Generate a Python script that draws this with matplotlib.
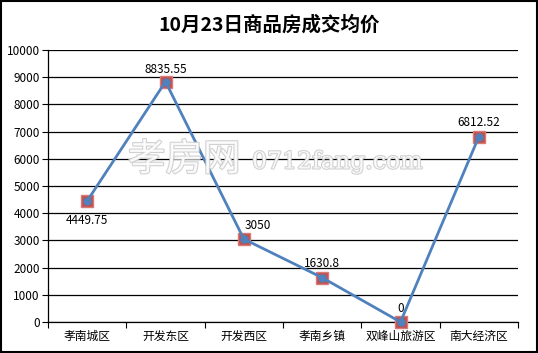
import numpy as np
import matplotlib
matplotlib.use("Agg")
import matplotlib.pyplot as plt
import matplotlib.patheffects as pe

plt.rcParams['font.family'] = ['Noto Sans CJK SC', 'DejaVu Sans']

categories = ['孝南城区', '开发东区', '开发西区', '孝南乡镇', '双峰山旅游区', '南大经济区']
values = [4449.75, 8835.55, 3050, 1630.8, 0, 6812.52]
labels = ['4449.75', '8835.55', '3050', '1630.8', '0', '6812.52']
yticks = list(range(0, 10001, 1000))

fig = plt.figure(figsize=(5.38, 3.53), dpi=100)
ax = fig.add_axes([48 / 538, 31 / 353, 470 / 538, 272 / 353])

x = np.arange(len(categories))
ax.plot(x, values, color='#4F81BD', lw=2.0, zorder=4, solid_joinstyle='round')
ax.plot(x, values, ls='none', marker='s', ms=8, mfc='#C0504D', mec='#D87A78',
        mew=1, zorder=3, clip_on=False)
ax.plot(x, values, ls='none', marker='o', ms=5, color='#4F81BD', zorder=5, clip_on=False)

offsets = [(0, -14), (0, 9), (10, 10), (0, 10), (0, 10), (0, 10)]
for xi, v, lab, (dx, dy) in zip(x, values, labels, offsets):
    ax.annotate(lab, (xi, v), xytext=(dx, dy), textcoords='offset points',
                ha='center', va='center', fontsize=8.5, color='black', zorder=6)

ax.set_xlim(-0.5, len(categories) - 0.5)
ax.set_ylim(0, 10000)
ax.set_yticks(yticks)
ax.set_yticklabels([str(t) for t in yticks], fontsize=8.5)
ax.set_xticks(x)
ax.set_xticklabels(categories, fontsize=8.5)
ax.set_xticks(np.arange(-0.5, len(categories)), minor=True)
ax.tick_params(axis='x', which='major', length=0, pad=6)
ax.tick_params(axis='x', which='minor', length=4, width=0.8, direction='out')
ax.tick_params(axis='y', length=4, width=0.8, direction='out', pad=2)
ax.grid(axis='y', color='black', lw=0.9, zorder=1)
ax.set_axisbelow(True)
for s in ['top', 'right']:
    ax.spines[s].set_visible(False)
ax.spines['left'].set_linewidth(0.9)
ax.spines['bottom'].set_linewidth(0.9)

fig.text(0.5, 1 - 25 / 353, '10月23日商品房成交均价', ha='center', va='center',
         fontsize=14, fontweight='bold')

# watermark
fig.text(128 / 538, 1 - 160 / 353, '孝房网', fontsize=27, color='white', alpha=0.85,
         va='center', ha='left', zorder=2,
         path_effects=[pe.withStroke(linewidth=1.5, foreground='#C8C8C8')])
fig.text(252 / 538, 1 - 162 / 353, '0712fang.com', fontsize=17, color='white',
         family='DejaVu Serif', alpha=0.85, va='center', ha='left', zorder=2,
         path_effects=[pe.withStroke(linewidth=1.5, foreground='#C8C8C8')])

fig.patches.append(plt.Rectangle((0.002, 0.003), 0.996, 0.994, transform=fig.transFigure,
                                 fill=False, edgecolor='black', lw=1.5))

fig.savefig('out.png', dpi=100)
